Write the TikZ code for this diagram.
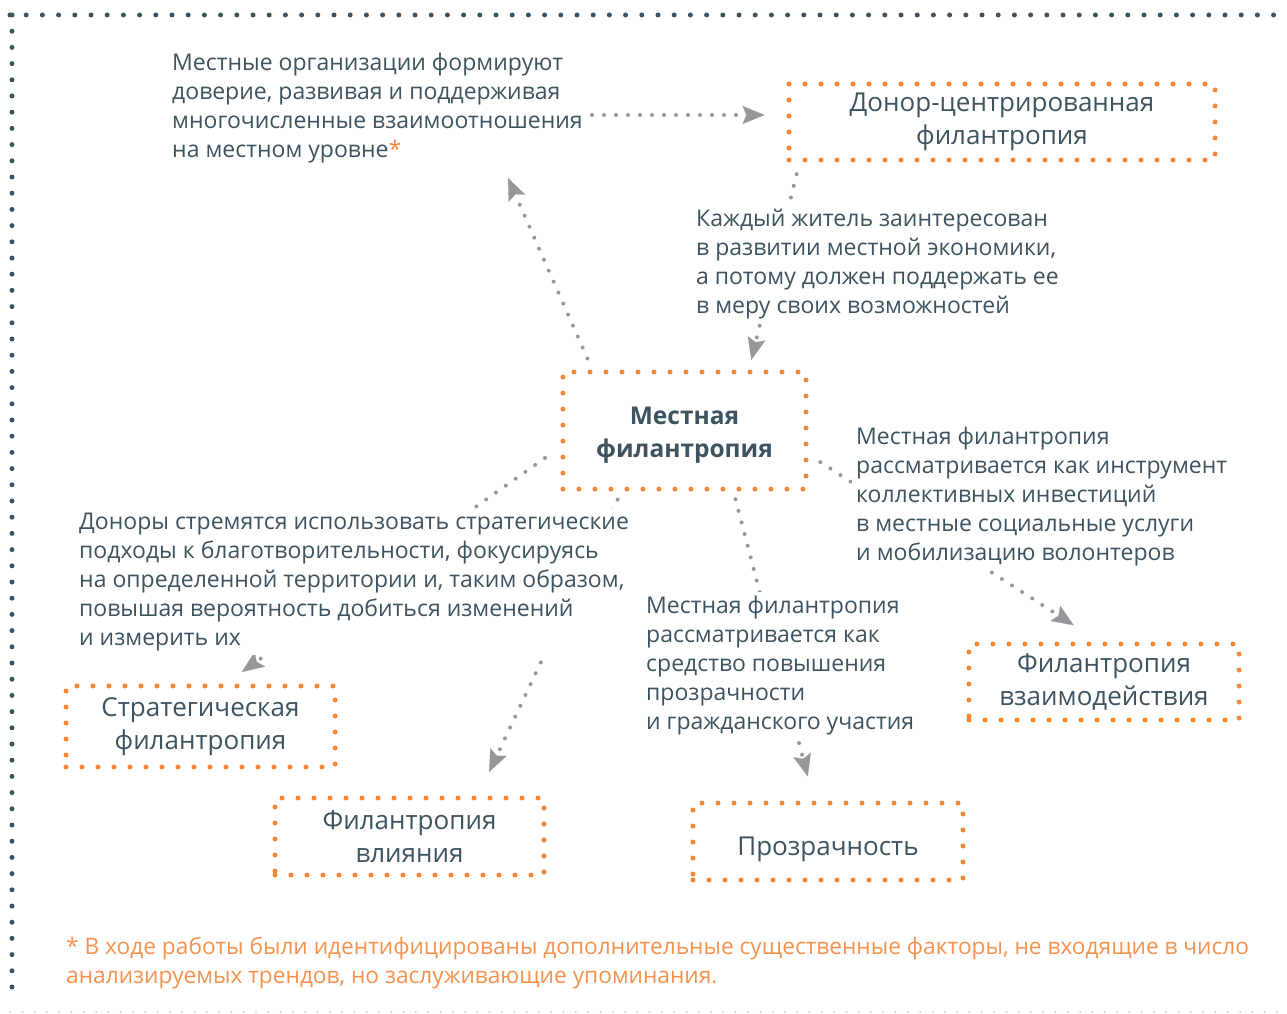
\documentclass[tikz,border=0pt]{standalone}
\usepackage{fontspec}
\setmainfont{Open Sans}
\usetikzlibrary{arrows.meta,calc}
\definecolor{inkc}{HTML}{3D5360}
\definecolor{orangec}{HTML}{F58634}
\definecolor{notec}{HTML}{F5924E}
\definecolor{grayc}{HTML}{97979B}
\definecolor{linec}{HTML}{C8C8C8}
\pgfdeclarelayer{back}
\pgfsetlayers{back,main}

\begin{document}
\begin{tikzpicture}[x=1pt,y=-1pt,
  box/.style={draw=orangec,line width=5pt,line cap=round,dash pattern=on 0pt off 16pt,
    text=inkc,align=center,font=\fontsize{26}{33}\selectfont},
  txt/.style={anchor=north west,fill=white,inner sep=4pt,text=inkc,align=left,
    font=\fontsize{23}{29}\selectfont},
  conn/.style={grayc,line width=4pt,line cap=round,dash pattern=on 0pt off 12pt,
    -{Stealth[length=22pt,width=18pt,inset=4pt,line width=0.1pt]}},
  frame/.style={draw=inkc,line width=5pt,line cap=round,dash pattern=on 0pt off 16.2pt}]
\useasboundingbox (0,0) rectangle (1287,1014);
% outer frame
\draw[frame] (10,15) -- (1276,15);
\draw[frame] (12,15) -- (12,995);
\draw[linec,line width=2pt,line cap=round,dash pattern=on 0pt off 12.3pt] (10,1012) -- (1287,1012);

% boxes
\node[box,minimum width=426,minimum height=76] (donor) at (1002,122) {Донор-центрированная\\филантропия};
\node[box,minimum width=243,minimum height=117,font=\fontsize{24.5}{33}\selectfont\bfseries] (main) at (684.5,430.5) {\rule{0pt}{27pt}Местная\\филантропия};
\node[box,minimum width=269,minimum height=81] (strat) at (200.5,726.5) {Стратегическая\\филантропия};
\node[box,minimum width=269,minimum height=77] (infl) at (409.5,836.5) {Филантропия\\влияния};
\node[box,minimum width=270,minimum height=77] (transp) at (828,841.5) {\rule{0pt}{34pt}Прозрачность};
\node[box,minimum width=270,minimum height=76] (inter) at (1104,682) {Филантропия\\взаимодействия};

% texts
\node[txt] (t1) at (168,49) {Местные организации формируют\\доверие, развивая и поддерживая\\многочисленные взаимоотношения\\на местном уровне{\color{orangec}*}};
\node[txt] (t2) at (692,205) {Каждый житель заинтересован\\в развитии местной экономики,\\а потому должен поддержать ее\\в меру своих возможностей};
\node[txt] (t3) at (852,423) {Местная филантропия\\рассматривается как инструмент\\коллективных инвестиций\\в местные социальные услуги\\и мобилизацию волонтеров};
\node[txt] (t4) at (75,509) {Доноры стремятся использовать стратегические\\подходы к благотворительности, фокусируясь\\на определенной территории и, таким образом,\\повышая вероятность добиться изменений\\и измерить их};
\node[txt] (t5) at (642,592) {Местная филантропия\\рассматривается как\\средство повышения\\прозрачности\\и гражданского участия};
\node[txt,text=notec,font=\fontsize{22.7}{29}\selectfont] (note) at (62,933) {* В ходе работы были идентифицированы дополнительные существенные факторы, не входящие в число\\анализируемых трендов, но заслуживающие упоминания.};

\coordinate (t1end) at (592,115);
\coordinate (t1tip) at (508,178);

% connectors
\begin{pgfonlayer}{back}
\draw[conn,shorten >=22pt] (t1end) -- ($(donor.west)+(0,-7)$);
\draw[conn,shorten <=12pt,shorten >=10pt] ($(donor.south west)!0.03!(donor.south east)$) -- ($(main.north west)!0.76!(main.north east)$);
\draw[conn,shorten <=12pt] ($(main.north west)!0.128!(main.north east)$) -- (t1tip);
\draw[conn,shorten <=19pt,shorten >=20pt] ($(main.west)+(0,16.5)$) -- ($(strat.north)+(25,0)$);
\draw[conn,shorten <=9pt,shorten >=26pt] ($(main.south west)+(61,0)$) -- ($(infl.north)+(68.5,0)$);
\draw[conn,shorten <=8pt,shorten >=25pt] ($(main.south west)+(173,0)$) -- ($(transp.north)+(-14,0)$);
\draw[conn,shorten <=14pt,shorten >=30pt] ($(main.east)+(0,24)$) -- ($(inter.north)+(-5,0)$);
\end{pgfonlayer}
\end{tikzpicture}
\end{document}
